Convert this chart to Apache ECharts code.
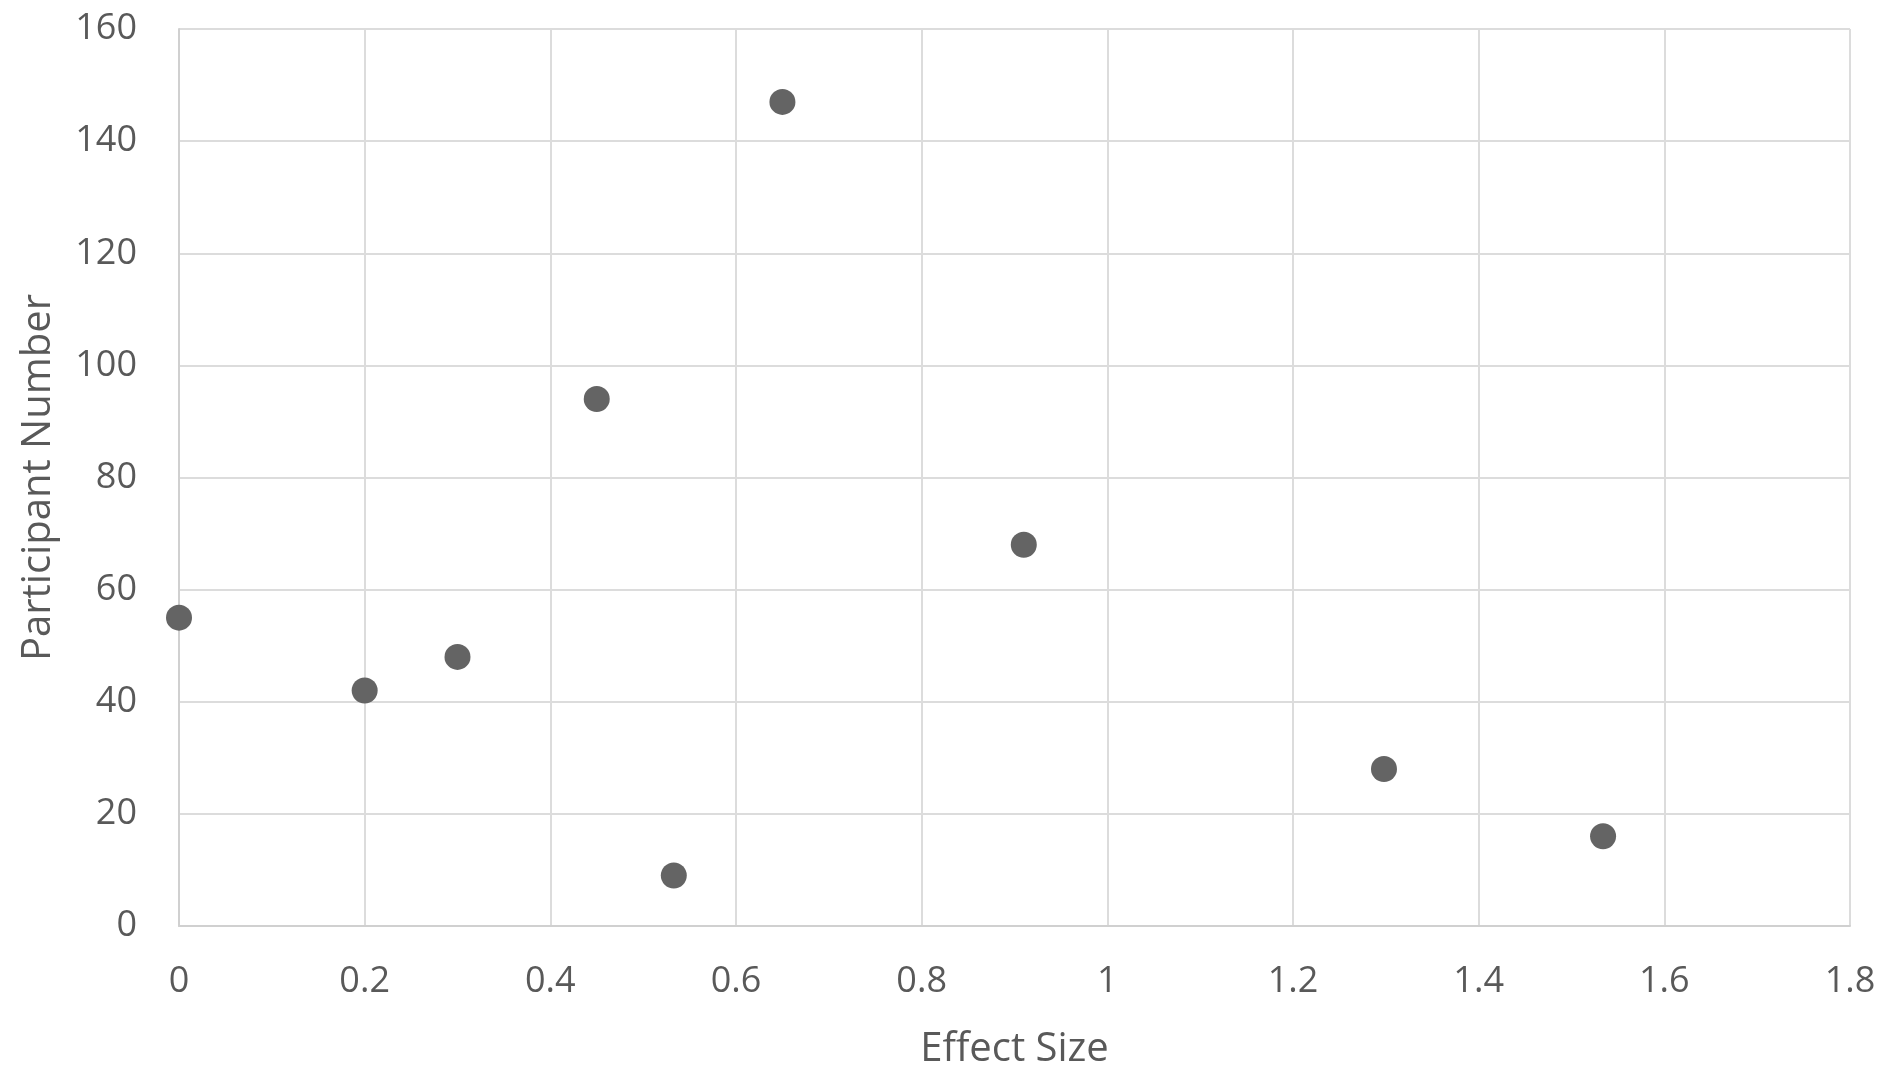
<!DOCTYPE html>
<html>
<head>
<meta charset="utf-8">
<script src="https://cdn.jsdelivr.net/npm/echarts@6/dist/echarts.min.js"></script>
<style>
html,body{margin:0;padding:0;background:#fff;}
#chart{width:1888px;height:1069px;}
</style>
</head>
<body>
<div id="chart"></div>
<script>
const effectSize = [0, 0.2, 0.3, 0.45, 0.533, 0.65, 0.91, 1.298, 1.534];
const participantNumber = [55, 42, 48, 94, 9, 147, 68, 28, 16];
const xTicks = [0, 0.2, 0.4, 0.6, 0.8, 1, 1.2, 1.4, 1.6, 1.8];
const yTicks = [0, 20, 40, 60, 80, 100, 120, 140, 160];
const xTitle = 'Effect Size';
const yTitle = 'Participant Number';

const points = effectSize.map((x, i) => [x, participantNumber[i]]);
const font = '"Open Sans", "Noto Sans", sans-serif';
const textColor = '#595959';

const chart = echarts.init(document.getElementById('chart'));
chart.setOption({
  animation: false,
  backgroundColor: '#ffffff',
  grid: { left: 179, right: 38, top: 29, bottom: 143, containLabel: false, outerBoundsMode: 'none' },
  xAxis: {
    type: 'value',
    min: xTicks[0], max: xTicks[xTicks.length - 1], interval: 0.2,
    name: xTitle, nameLocation: 'middle', nameGap: 104,
    nameTextStyle: { color: textColor, fontSize: 40, fontFamily: font },
    axisLine: { show: true, lineStyle: { color: '#d0d0d0', width: 2 } },
    axisTick: { show: false },
    axisLabel: { color: textColor, fontSize: 36, fontFamily: font, margin: 38,
      formatter: v => String(Math.round(v * 10) / 10) },
    splitLine: { show: true, lineStyle: { color: '#dcdcdc', width: 2 } }
  },
  yAxis: {
    type: 'value',
    min: yTicks[0], max: yTicks[yTicks.length - 1], interval: 20,
    name: yTitle, nameLocation: 'middle', nameGap: 120, nameRotate: 90,
    nameTextStyle: { color: textColor, fontSize: 40, fontFamily: font },
    axisLine: { show: true, lineStyle: { color: '#d0d0d0', width: 2 } },
    axisTick: { show: false },
    axisLabel: { color: textColor, fontSize: 36, fontFamily: font, margin: 42 },
    splitLine: { show: true, lineStyle: { color: '#dcdcdc', width: 2 } }
  },
  series: [{
    type: 'scatter',
    data: points,
    symbol: 'circle',
    symbolSize: 26,
    itemStyle: { color: '#646464', opacity: 1 }
  }]
});
</script>
</body>
</html>
